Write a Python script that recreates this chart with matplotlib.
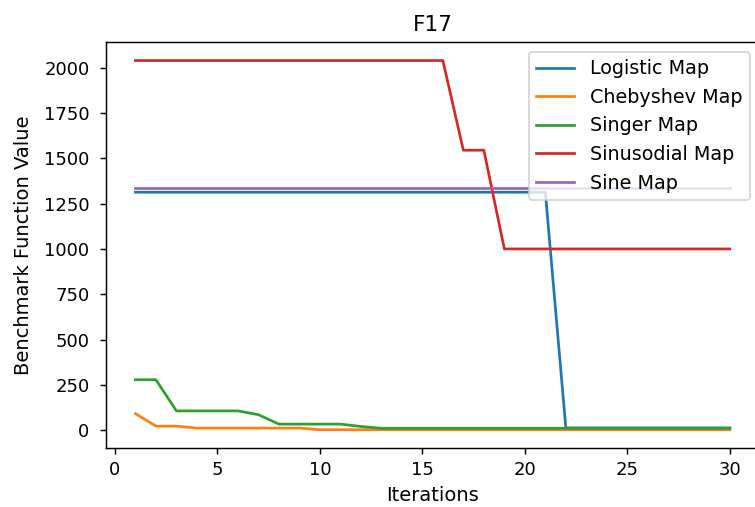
import matplotlib
matplotlib.use("Agg")
import matplotlib.pyplot as plt

iterations = list(range(1, 31))

logistic = [1313] * 21 + [12] * 9
chebyshev = [91, 22, 22, 11, 11, 11, 11, 11, 11, 2] + [2] * 20
singer = [278, 278, 106, 106, 106, 106, 85, 33, 33, 33, 33, 20, 10] + [10] * 17
sinusoidal = [2040] * 16 + [1545, 1545] + [1000] * 12
sine = [1336] * 30

series = [
    ("Logistic Map", logistic),
    ("Chebyshev Map", chebyshev),
    ("Singer Map", singer),
    ("Sinusodial Map", sinusoidal),
    ("Sine Map", sine),
]

dpi = 130
fig = plt.figure(figsize=(755 / dpi, 507 / dpi), dpi=dpi)
ax = fig.add_axes([0.140, 0.116, 0.866, 0.801])

for name, vals in series:
    ax.plot(iterations, vals, label=name)

ax.set_title("F17")
ax.set_xlabel("Iterations", fontsize=10.8)
ax.set_ylabel("Benchmark Function Value", fontsize=10.8, labelpad=6)
ax.set_xticks([0, 5, 10, 15, 20, 25, 30])
ax.tick_params(axis="y", pad=5.5)
ax.spines["right"].set_visible(False)
ax.legend(loc="upper right", fontsize=10.6)

fig.savefig("out.png", dpi=dpi)
